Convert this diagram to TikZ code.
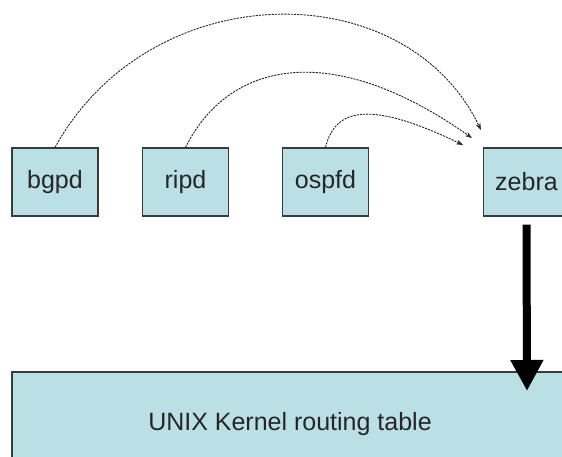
\documentclass[tikz,border=0pt]{standalone}
\usepackage{fontspec}
\setmainfont{Liberation Sans}
\usetikzlibrary{arrows.meta}
\definecolor{boxfill}{RGB}{186,223,228}
\definecolor{boxline}{RGB}{55,60,62}
\definecolor{curveline}{RGB}{40,40,40}
\begin{document}
\begin{tikzpicture}[x=1pt,y=-1pt,
  daemon/.style={draw=boxline,line width=1.1pt,fill=boxfill,minimum width=86pt,minimum height=68pt,inner sep=0pt,font=\fontsize{25}{30}\selectfont,text=black!85},
  kernelbox/.style={draw=boxline,line width=1.1pt,fill=boxfill,minimum width=556pt,minimum height=104pt,inner sep=0pt,font=\fontsize{25}{30}\selectfont,text=black!85},
  ipc/.style={draw=curveline,line width=0.9pt,dash pattern=on 2.2pt off 1pt,-{Stealth[length=7pt,width=5pt]}},
  bigarrow/.style={draw=black,line width=8pt,-{Triangle[length=31pt,width=31pt]}}]
\useasboundingbox (0,0) rectangle (562,456);
\fill[white] (0,0) rectangle (562,456);
\node[daemon] (bgpd) at (55,182) {bgpd};
\node[daemon] (ripd) at (185.5,182) {ripd};
\node[daemon] (ospfd) at (325.5,182) {ospfd};
\node[daemon] (zebra) at (526.5,182) {zebra};
\node[kernelbox] (kernel) at (290,424) {UNIX Kernel routing table};
\coordinate (t1) at (481,130);
\coordinate (t2) at (472,138);
\coordinate (t3) at (463,145);
\coordinate (tip) at (527,391);
\draw[ipc] (bgpd.north) .. controls (150,-25) and (405,-28) .. (t1);
\draw[ipc] (ripd.north) .. controls (228,62) and (330,38) .. (t2);
\draw[ipc] (ospfd.north) .. controls (335,108) and (370,100) .. (t3);
\draw[bigarrow] ([yshift=-8pt]zebra.south) -- (tip);
\end{tikzpicture}
\end{document}
